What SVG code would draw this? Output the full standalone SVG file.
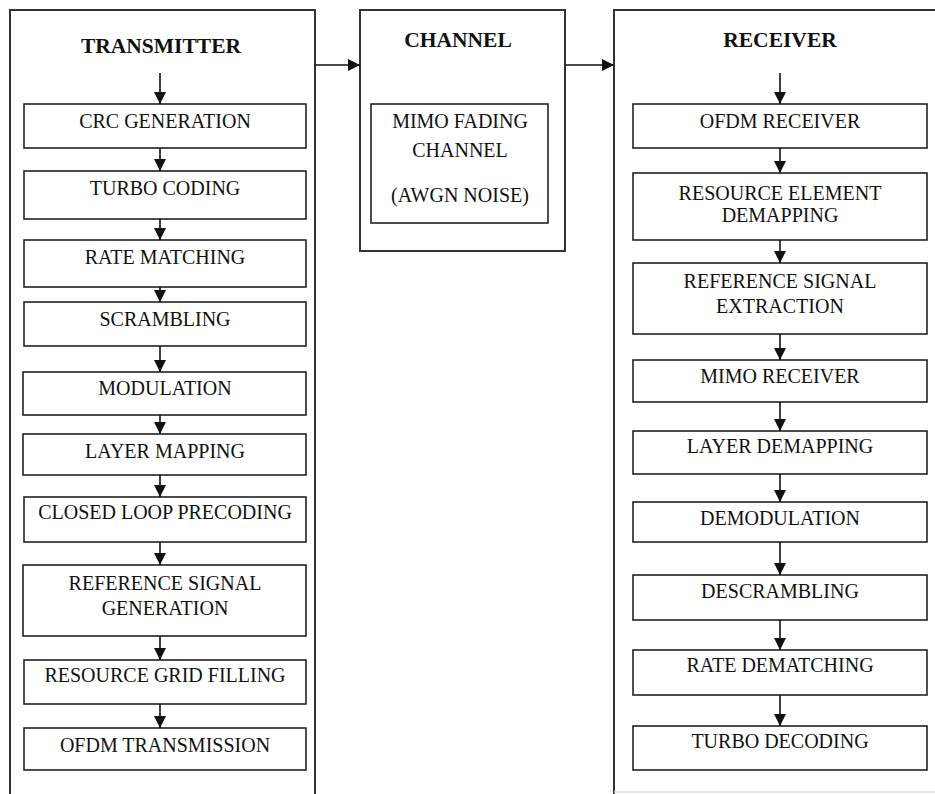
<svg xmlns="http://www.w3.org/2000/svg" width="935" height="794" viewBox="0 0 935 794">
<style>
.frame{fill:none;stroke:#333;stroke-width:2}
.box{fill:#fff;stroke:#222;stroke-width:1.6}
.title{font-family:"Liberation Serif","Times New Roman",serif;font-size:21.5px;font-weight:bold;fill:#111;text-anchor:middle}
.lbl{font-family:"Liberation Serif","Times New Roman",serif;font-size:20px;fill:#111;text-anchor:middle}
.conn line{stroke:#111;stroke-width:1.6;marker-end:url(#ah)}
</style>
<defs>
<marker id="ah" markerUnits="userSpaceOnUse" markerWidth="13" markerHeight="13" refX="12" refY="6" orient="auto">
<path d="M0,0 L12,6 L0,12 z" fill="#111"/>
</marker>
</defs>
<rect width="935" height="794" fill="#fff"/>
<g id="transmitter">
<path class="frame" d="M10,800 L10,10 L315,10 L315,800"/>
<text class="title" x="161" y="53">TRANSMITTER</text>
</g>
<g id="channel">
<rect class="frame" x="360" y="10" width="205" height="241"/>
<text class="title" x="458" y="47">CHANNEL</text>
</g>
<g id="mimo-fading-channel">
<rect class="box" x="371" y="104" width="177" height="119"/>
<text class="lbl" x="460" y="128">MIMO FADING</text>
<text class="lbl" x="460" y="157">CHANNEL</text>
<text class="lbl" x="460" y="202">(AWGN NOISE)</text>
</g>
<g id="receiver">
<path class="frame" d="M614,800 L614,10 L940,10"/>
<line x1="614" y1="792" x2="935" y2="792" stroke="#ddd" stroke-width="1.5"/>
<text class="title" x="780" y="47">RECEIVER</text>
</g>
<g id="crc-generation"><rect class="box" x="24" y="104" width="282" height="44"/><text class="lbl" x="165" y="128">CRC GENERATION</text></g>
<g id="turbo-coding"><rect class="box" x="24" y="171" width="282" height="48"/><text class="lbl" x="165" y="195">TURBO CODING</text></g>
<g id="rate-matching"><rect class="box" x="24" y="240" width="282" height="47"/><text class="lbl" x="165" y="264">RATE MATCHING</text></g>
<g id="scrambling"><rect class="box" x="24" y="302" width="282" height="44"/><text class="lbl" x="165" y="326">SCRAMBLING</text></g>
<g id="modulation"><rect class="box" x="23" y="372" width="283" height="43"/><text class="lbl" x="165" y="395">MODULATION</text></g>
<g id="layer-mapping"><rect class="box" x="23" y="434" width="283" height="41"/><text class="lbl" x="165" y="458">LAYER MAPPING</text></g>
<g id="closed-loop-precoding"><rect class="box" x="24" y="497" width="282" height="45"/><text class="lbl" x="165" y="519">CLOSED LOOP PRECODING</text></g>
<g id="reference-signal-generation"><rect class="box" x="23" y="565" width="283" height="71"/><text class="lbl" x="165" y="590">REFERENCE SIGNAL</text><text class="lbl" x="165" y="615">GENERATION</text></g>
<g id="resource-grid-filling"><rect class="box" x="24" y="660" width="282" height="44"/><text class="lbl" x="165" y="682">RESOURCE GRID FILLING</text></g>
<g id="ofdm-transmission"><rect class="box" x="24" y="728" width="282" height="42"/><text class="lbl" x="165" y="752">OFDM TRANSMISSION</text></g>
<g id="ofdm-receiver"><rect class="box" x="633" y="104" width="294" height="44"/><text class="lbl" x="780" y="128">OFDM RECEIVER</text></g>
<g id="resource-element-demapping"><rect class="box" x="633" y="173" width="294" height="67"/><text class="lbl" x="780" y="200">RESOURCE ELEMENT</text><text class="lbl" x="780" y="222">DEMAPPING</text></g>
<g id="reference-signal-extraction"><rect class="box" x="633" y="263" width="294" height="71"/><text class="lbl" x="780" y="288">REFERENCE SIGNAL</text><text class="lbl" x="780" y="313">EXTRACTION</text></g>
<g id="mimo-receiver"><rect class="box" x="633" y="360" width="294" height="42"/><text class="lbl" x="780" y="383">MIMO RECEIVER</text></g>
<g id="layer-demapping"><rect class="box" x="633" y="431" width="294" height="43"/><text class="lbl" x="780" y="453">LAYER DEMAPPING</text></g>
<g id="demodulation"><rect class="box" x="633" y="502" width="294" height="40"/><text class="lbl" x="780" y="525">DEMODULATION</text></g>
<g id="descrambling"><rect class="box" x="633" y="575" width="294" height="45"/><text class="lbl" x="780" y="598">DESCRAMBLING</text></g>
<g id="rate-dematching"><rect class="box" x="633" y="650" width="294" height="45"/><text class="lbl" x="780" y="672">RATE DEMATCHING</text></g>
<g id="turbo-decoding"><rect class="box" x="633" y="726" width="294" height="44"/><text class="lbl" x="780" y="748">TURBO DECODING</text></g>
<g id="connectors" class="conn">
<line x1="160" y1="73" x2="160" y2="104"/>
<line x1="160" y1="148" x2="160" y2="171"/>
<line x1="160" y1="219" x2="160" y2="240"/>
<line x1="160" y1="287" x2="160" y2="302"/>
<line x1="160" y1="346" x2="160" y2="372"/>
<line x1="160" y1="415" x2="160" y2="434"/>
<line x1="160" y1="475" x2="160" y2="497"/>
<line x1="160" y1="542" x2="160" y2="565"/>
<line x1="160" y1="636" x2="160" y2="660"/>
<line x1="160" y1="704" x2="160" y2="728"/>
<line x1="315" y1="65" x2="360" y2="65"/>
<line x1="565" y1="65" x2="614" y2="65"/>
<line x1="780" y1="73" x2="780" y2="104"/>
<line x1="780" y1="148" x2="780" y2="173"/>
<line x1="780" y1="240" x2="780" y2="263"/>
<line x1="780" y1="334" x2="780" y2="360"/>
<line x1="780" y1="402" x2="780" y2="431"/>
<line x1="780" y1="474" x2="780" y2="502"/>
<line x1="780" y1="542" x2="780" y2="575"/>
<line x1="780" y1="620" x2="780" y2="650"/>
<line x1="780" y1="695" x2="780" y2="726"/>
</g>
</svg>
